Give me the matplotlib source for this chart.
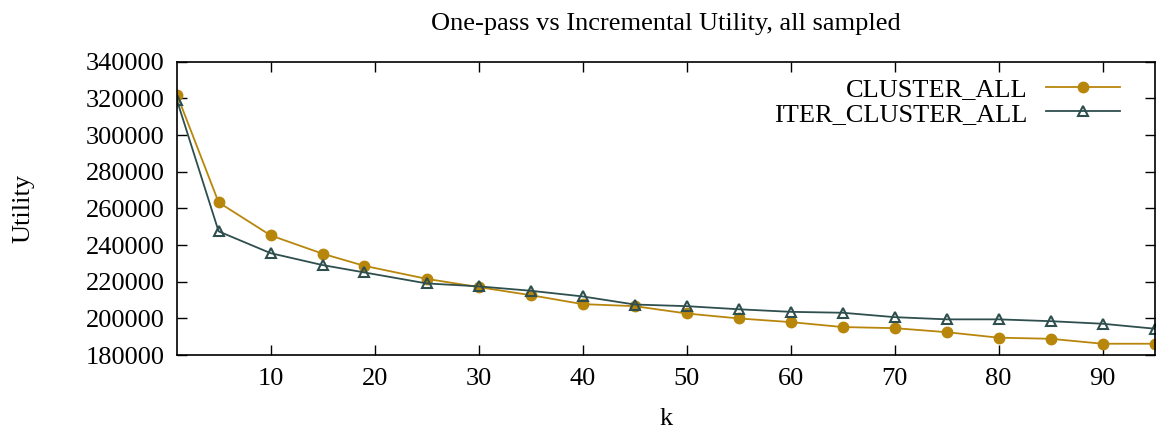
import matplotlib
matplotlib.use('Agg')
import matplotlib.pyplot as plt

# Valores
k = [1, 5, 10, 15, 19, 25, 30, 35, 40, 45, 50, 55, 60, 65, 70, 75, 80, 85, 90, 95]
cluster_all = [322000, 263300, 245300, 235300, 228700, 221600, 217100, 212700, 207800, 206700,
               202700, 200000, 198000, 195300, 194700, 192500, 189500, 188900, 186200, 186200]
iter_cluster_all = [318900, 247500, 235600, 229100, 225100, 219100, 217500, 215100, 212000, 207600,
                    206700, 205000, 203600, 203100, 200700, 199500, 199500, 198500, 197100, 194400]

x_ticks = [10, 20, 30, 40, 50, 60, 70, 80, 90]
y_ticks = [180000, 200000, 220000, 240000, 260000, 280000, 300000, 320000, 340000]

plt.rcParams['font.family'] = ['Liberation Serif', 'DejaVu Serif']
fs = 19

fig = plt.figure(figsize=(11.57, 4.32), dpi=100)
ax = fig.add_axes([0.153, 0.178, 0.845, 0.679])

ax.plot(k, cluster_all, color='#b8860b', marker='o', markersize=7.5, linewidth=1.3,
        label='CLUSTER_ALL')
ax.plot(k, iter_cluster_all, color='#2f4f4f', marker='^', markersize=7.5, linewidth=1.3,
        markerfacecolor='none', markeredgewidth=1.5, label='ITER_CLUSTER_ALL')

ax.set_xlim(1, 95)
ax.set_ylim(180000, 340000)
ax.set_xticks(x_ticks)
ax.set_yticks(y_ticks)
ax.tick_params(direction='in', length=7, width=1, top=True, right=True, labelsize=fs, pad=9)
for s in ax.spines.values():
    s.set_linewidth(1.2)

ax.set_title('One-pass vs Incremental Utility, all sampled', fontsize=fs, pad=23)
ax.set_xlabel('k', fontsize=fs, labelpad=13)
ax.set_ylabel('Utility', fontsize=fs, labelpad=37)

leg = ax.legend(loc='upper right', frameon=False, fontsize=fs, markerfirst=False,
                handlelength=2.8, borderaxespad=0, labelspacing=0.05, handletextpad=0.7,
                bbox_to_anchor=(0.975, 0.983))
for t in leg.get_texts():
    t.set_ha('right')

fig.savefig('out.png', dpi=100)
